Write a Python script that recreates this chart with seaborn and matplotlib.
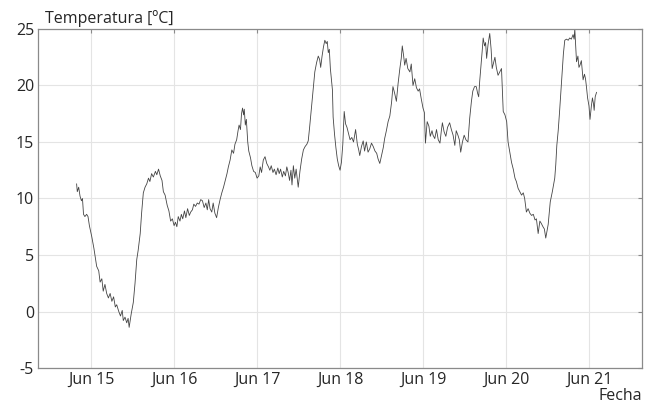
import numpy as np
import pandas as pd
import matplotlib
matplotlib.use('Agg')
import matplotlib.pyplot as plt
import matplotlib.dates as mdates
import seaborn as sns

# horas desde el 15 de junio 00:00 y temperatura
horas = [-4.2, -4.0, -3.6, -3.2, -2.8, -2.5, -2.2, -1.8, -1.3, -0.9, -0.5, 0.2, 0.8, 1.6, 2.2, 2.6, 3.1, 3.5, 4.0, 4.5,
         5.0, 5.5, 6.0, 6.5, 7.0, 7.4, 8.0, 8.5, 9.0, 9.3, 9.8, 10.3, 10.7, 11.0, 11.6, 12.2, 12.7, 13.2, 13.6, 14.2,
         14.6, 15.1, 15.6, 16.1, 16.6, 17.0, 17.5, 18.0, 18.6, 19.0, 19.5, 20.0, 20.5, 20.9, 21.4, 22.0, 22.5, 23.0, 23.5, 24.0,
         24.4, 24.8, 25.2, 25.7, 26.1, 26.5, 27.0, 27.4, 27.9, 28.4, 28.8, 29.3, 29.7, 30.2, 30.7, 31.2, 31.7, 32.2, 32.7, 33.2,
         33.6, 34.0, 34.4, 34.9, 35.3, 35.8, 36.3, 36.8, 37.3, 37.8, 38.3, 38.8, 39.3, 39.7, 40.2, 40.7, 41.2, 41.6, 42.1, 42.5,
         42.8, 43.2, 43.5, 43.8, 44.1, 44.3, 44.6, 44.9, 45.3, 45.6, 46.1, 46.5, 47.0, 47.5, 48.0, 48.5, 48.9, 49.3, 49.8, 50.3,
         50.8, 51.3, 51.7, 52.1, 52.6, 53.0, 53.5, 54.0, 54.4, 54.8, 55.3, 55.7, 56.2, 56.6, 57.0, 57.4, 57.8, 58.1, 58.5, 58.9,
         59.3, 59.9, 60.4, 60.9, 61.4, 61.9, 62.4, 62.8, 63.2, 63.8, 64.2, 64.7, 65.2, 65.7, 66.1, 66.4, 66.8, 67.2, 67.6, 68.0,
         68.3, 68.6, 68.9, 69.2, 69.6, 69.8, 70.0, 70.4, 70.8, 71.2, 71.6, 72.0, 72.4, 72.8, 73.2, 73.6, 74.0, 74.4, 74.9, 75.4,
         75.9, 76.5, 77.0, 77.4, 77.7, 78.2, 78.7, 79.1, 79.6, 80.1, 80.6, 81.1, 81.6, 82.1, 82.6, 83.0, 83.5, 84.0, 84.5, 84.9,
         85.4, 85.9, 86.4, 86.9, 87.3, 87.8, 88.3, 88.8, 89.3, 89.7, 90.0, 90.4, 90.7, 91.1, 91.6, 92.2, 92.6, 93.1, 93.6, 94.1,
         94.6, 95.0, 95.5, 96.0, 96.4, 96.7, 97.2, 97.7, 98.1, 98.6, 98.9, 99.4, 99.9, 100.4, 100.9, 101.3, 101.6, 102.1, 102.6, 103.1,
         103.7, 104.2, 104.7, 105.2, 105.6, 106.1, 106.5, 106.9, 107.4, 107.9, 108.4, 109.0, 109.5, 110.0, 110.4, 110.9, 111.4, 111.8, 112.1, 112.4,
         112.7, 113.1, 113.4, 113.8, 114.1, 114.4, 114.8, 115.3, 115.7, 116.0, 116.4, 116.8, 117.2, 117.7, 118.2, 118.7, 119.2, 119.7, 120.2, 120.6,
         121.1, 121.6, 122.1, 122.6, 123.0, 123.5, 124.0, 124.5, 125.0, 125.4, 125.9, 126.4, 126.9, 127.4, 127.9, 128.4, 128.8, 129.3, 129.8, 130.2,
         130.7, 131.1, 131.5, 131.9, 132.2, 132.8, 133.4, 134.1, 134.4, 134.7, 135.1, 135.5, 136.2, 136.6, 137.0, 137.5, 138.0, 138.4, 138.9, 139.4,
         139.7, 139.9, 140.4, 140.8, 141.1, 141.4, 141.8, 142.3, 142.7, 143.0, 143.3, 143.6, 144.0, 144.3, 144.7, 145.0, 145.3, 145.5, 145.8, 146.2]

temperatura = [11.3, 10.6, 11.0, 10.2, 9.8, 10.0, 8.6, 8.4, 8.6, 8.4, 7.6, 6.6, 5.6, 4.0, 3.6, 2.6, 2.9, 1.8, 2.4, 1.6,
               1.2, 1.6, 0.9, 1.3, 0.4, 0.6, 0.0, -0.4, 0.1, -0.8, -0.5, -1.0, -0.6, -1.4, -0.2, 0.8, 2.5, 4.6, 5.4, 6.9,
               8.7, 10.5, 11.0, 11.3, 11.8, 11.5, 12.2, 11.9, 12.4, 12.1, 12.6, 12.0, 11.6, 10.6, 10.3, 9.4, 8.9, 8.0, 8.2, 7.6,
               7.9, 7.5, 8.4, 8.0, 8.6, 8.2, 8.9, 8.3, 9.1, 8.5, 8.8, 9.0, 9.5, 9.3, 9.6, 9.5, 9.9, 9.8, 9.2, 9.6,
               9.0, 9.9, 9.1, 8.8, 9.6, 8.7, 8.3, 9.2, 9.9, 10.5, 11.0, 11.6, 12.2, 12.8, 13.4, 14.3, 14.0, 14.8, 15.2, 16.0,
               16.5, 16.1, 17.5, 18.0, 17.4, 17.9, 16.5, 17.0, 15.0, 14.2, 13.6, 12.9, 12.4, 12.3, 11.8, 12.0, 12.8, 12.3, 13.4, 13.7,
               13.1, 12.8, 12.5, 12.9, 12.3, 12.6, 12.1, 12.7, 12.2, 12.6, 11.9, 12.4, 12.0, 12.8, 12.3, 11.6, 12.5, 11.2, 12.9, 11.8,
               12.6, 11.0, 12.4, 13.5, 14.3, 14.6, 14.8, 15.1, 16.3, 18.3, 19.6, 21.2, 22.0, 22.6, 22.3, 21.6, 22.6, 23.4, 24.0, 23.7,
               23.9, 22.9, 23.2, 21.5, 20.2, 19.6, 17.2, 15.7, 14.5, 13.5, 12.9, 12.5, 13.2, 14.8, 17.7, 16.6, 16.3, 15.8, 15.2, 15.4,
               15.0, 16.1, 14.8, 14.3, 13.8, 14.6, 15.1, 14.2, 15.0, 14.1, 14.4, 14.9, 14.6, 14.2, 14.0, 13.5, 13.1, 13.8, 14.5, 15.3,
               16.0, 16.8, 17.3, 18.5, 19.9, 19.3, 18.6, 20.2, 21.5, 22.4, 23.5, 22.6, 21.8, 22.4, 21.5, 21.2, 21.9, 20.0, 20.6, 19.8,
               19.5, 19.7, 18.8, 18.0, 17.6, 14.9, 16.8, 16.4, 15.5, 16.0, 15.6, 15.3, 16.1, 15.2, 14.9, 16.0, 16.7, 15.9, 15.5, 16.3,
               16.7, 16.1, 15.6, 14.7, 16.0, 15.6, 15.2, 14.1, 15.0, 15.6, 15.2, 15.0, 17.1, 18.6, 19.5, 19.9, 19.9, 19.3, 19.0, 20.4,
               21.5, 23.0, 24.2, 23.5, 23.8, 22.4, 23.6, 24.6, 23.2, 21.5, 22.0, 22.5, 21.6, 20.9, 21.2, 21.5, 17.7, 17.4, 16.8, 15.0,
               14.1, 13.2, 12.6, 11.8, 11.5, 10.9, 10.6, 10.3, 10.5, 10.0, 8.8, 9.1, 8.7, 8.5, 8.6, 8.1, 8.2, 6.9, 8.0, 7.8,
               7.5, 7.3, 6.5, 7.2, 7.7, 9.7, 10.6, 11.8, 13.0, 14.7, 16.0, 17.7, 20.9, 22.8, 24.0, 24.1, 24.0, 24.2, 24.1, 24.5,
               24.1, 25.0, 22.1, 22.6, 21.6, 21.8, 22.2, 20.5, 21.0, 20.6, 19.8, 18.9, 18.2, 17.0, 18.2, 18.9, 18.4, 17.8, 19.0, 19.4]

inicio = pd.Timestamp('2021-06-15')
df = pd.DataFrame({'fecha': inicio + pd.to_timedelta(horas, unit='h'), 'temperatura': temperatura})

sns.set_style('white')
plt.rcParams['font.family'] = ['Open Sans', 'DejaVu Sans']
plt.rcParams['axes.unicode_minus'] = False

fig = plt.figure(figsize=(6.59, 4.08), dpi=100)
ax = fig.add_axes([0.058, 0.098, 0.916, 0.831])

sns.lineplot(data=df, x='fecha', y='temperatura', ax=ax, color='#444444', linewidth=0.6)

ax.set_xlim(inicio - pd.Timedelta(hours=15.3), inicio + pd.Timedelta(hours=159.3))
ax.set_ylim(-5, 25)
ax.set_yticks(np.arange(-5, 26, 5))
ax.xaxis.set_major_locator(mdates.DayLocator())
ax.xaxis.set_major_formatter(mdates.DateFormatter('%b %d'))

ax.grid(True, color='#e4e4e4', linewidth=0.8)
ax.set_axisbelow(True)
for s in ax.spines.values():
    s.set_color('#8a8a8a')
    s.set_linewidth(0.9)
ax.tick_params(direction='in', length=3, width=0.8, color='#8a8a8a', top=True, right=True,
               labelsize=11.5, labelcolor='#262626', pad=3)

ax.set_xlabel('')
ax.set_ylabel('')
ax.text(0.012, 1.006, 'Temperatura [ºC]', transform=ax.transAxes, ha='left', va='bottom',
        fontsize=11.5, color='#262626')
ax.text(1.0, -0.058, 'Fecha', transform=ax.transAxes, ha='right', va='top',
        fontsize=11.5, color='#262626')

fig.savefig('out.png', dpi=100)
